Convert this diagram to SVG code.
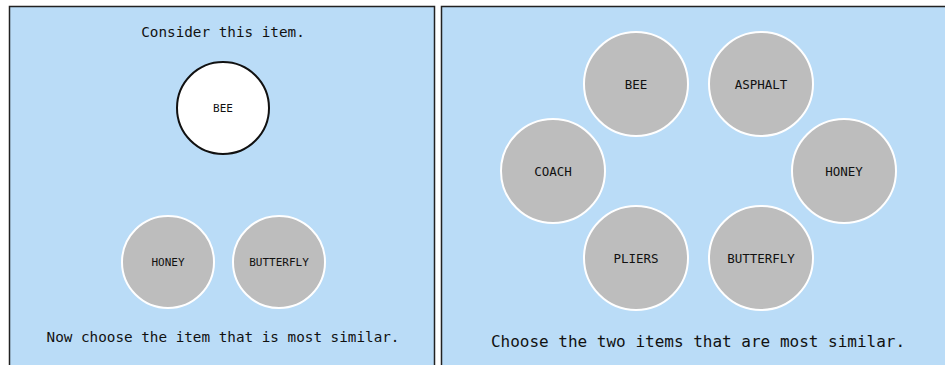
<svg xmlns="http://www.w3.org/2000/svg" width="945" height="365" viewBox="0 0 945 365">
<style>
.panel{fill:#badcf7;stroke:#222;stroke-width:1.5}
.t{font-family:"DejaVu Sans Mono","Liberation Mono",monospace;fill:#111;text-anchor:middle}
.opt{fill:#bdbdbd;stroke:#fff;stroke-width:2}
.ref{fill:#fff;stroke:#111;stroke-width:2}
.s{font-size:11px}
.m{font-size:12.5px}
</style>
<rect width="945" height="365" fill="#fff"/>
<g id="left-panel">
<rect class="panel" x="9.5" y="6.5" width="425" height="370"/>
<text class="t" x="223" y="37" font-size="14.3">Consider this item.</text>
<text class="t" x="223" y="342" font-size="14.3">Now choose the item that is most similar.</text>
</g>
<g id="ref-bee"><circle class="ref" cx="223" cy="108" r="46"/><text class="t s" x="223" y="112">BEE</text></g>
<g id="l-honey"><circle class="opt" cx="168" cy="262" r="46"/><text class="t s" x="168" y="266">HONEY</text></g>
<g id="l-butterfly"><circle class="opt" cx="279" cy="262" r="46"/><text class="t s" x="279" y="266">BUTTERFLY</text></g>
<g id="right-panel">
<rect class="panel" x="441.5" y="6.5" width="520" height="370"/>
<text class="t" x="698" y="347" font-size="16">Choose the two items that are most similar.</text>
</g>
<g id="r-bee"><circle class="opt" cx="636" cy="84" r="52"/><text class="t m" x="636" y="88.5">BEE</text></g>
<g id="r-asphalt"><circle class="opt" cx="761" cy="84" r="52"/><text class="t m" x="761" y="88.5">ASPHALT</text></g>
<g id="r-coach"><circle class="opt" cx="553" cy="171" r="52"/><text class="t m" x="553" y="175.5">COACH</text></g>
<g id="r-honey"><circle class="opt" cx="844" cy="171" r="52"/><text class="t m" x="844" y="175.5">HONEY</text></g>
<g id="r-pliers"><circle class="opt" cx="636" cy="258" r="52"/><text class="t m" x="636" y="262.5">PLIERS</text></g>
<g id="r-butterfly"><circle class="opt" cx="761" cy="258" r="52"/><text class="t m" x="761" y="262.5">BUTTERFLY</text></g>
<g id="connectors"/>
</svg>
